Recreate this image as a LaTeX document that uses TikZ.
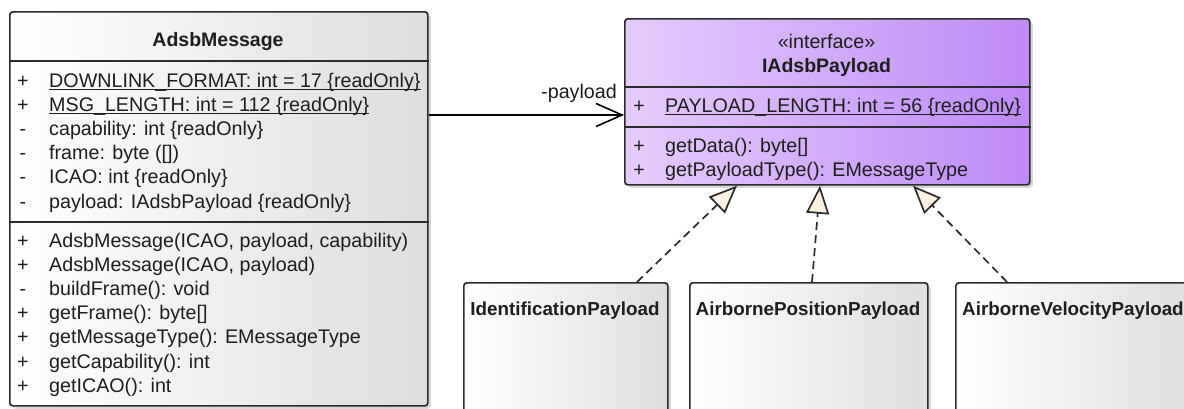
\documentclass[tikz,border=0pt]{standalone}
\usepackage{fontspec}
\setmainfont{Liberation Sans}
\usetikzlibrary{arrows.meta,shadows}

\definecolor{edgecol}{RGB}{44,44,44}
\definecolor{txtcol}{RGB}{30,30,30}
\definecolor{clsR}{RGB}{222,222,222}
\definecolor{ifL}{RGB}{230,204,252}
\definecolor{ifR}{RGB}{190,138,246}
\definecolor{cream}{RGB}{251,241,226}

\begin{document}
\begin{tikzpicture}[x=1pt,y=-1pt,
  boxbase/.style={draw=edgecol, line width=1.7pt, rounded corners=3pt,
    anchor=north west, inner sep=0pt,
    drop shadow={shadow xshift=3pt, shadow yshift=-3pt, opacity=0.25, fill=black!60}},
  classbox/.style={boxbase, left color=white, right color=clsR},
  ifacebox/.style={boxbase, left color=ifL, right color=ifR},
  divider/.style={draw=edgecol, line width=1.6pt},
  txt/.style={inner sep=0pt, text=txtcol, font=\fontsize{19.7}{23}\selectfont},
  member/.style={txt, anchor=base west},
  sign/.style={txt, anchor=base},
  title/.style={txt, anchor=base, font=\fontsize{19.5}{23}\selectfont\bfseries},
  subtitle/.style={txt, anchor=base, font=\fontsize{18.8}{23}\selectfont\bfseries},
  uline/.style={draw=txtcol, line width=1.3pt},
  assoc/.style={draw=black, line width=1.6pt, -{Straight Barb[length=26pt,width=23pt]}},
  realize/.style={draw=edgecol, line width=1.7pt, dash pattern=on 8pt off 5pt,
    -{Triangle[length=28pt,width=23pt,fill=cream]}}
]
\useasboundingbox (0,0) rectangle (1184,408);
\fill[white] (0,0) rectangle (1184,408);

% ---------------- AdsbMessage ----------------
\node[classbox, minimum width=418pt, minimum height=394pt] (am) at (9,11) {};
\draw[divider] (am.west |- 0,61) -- (am.east |- 0,61);
\draw[divider] (am.west |- 0,222) -- (am.east |- 0,222);
\node[title] (amT) at (218,46) {AdsbMessage};

% attributes
\node[sign] (as1) at (23,87) {+};
\node[member] (aa1) at (49,87) {DOWNLINK\_FORMAT: int = 17 \{readOnly\}};
\node[sign] (as2) at (23,111.2) {+};
\node[member] (aa2) at (49,111.2) {MSG\_LENGTH: int = 112 \{readOnly\}};
\node[sign] (as3) at (23,135.4) {-};
\node[member] (aa3) at (49,135.4) {capability: int \{readOnly\}};
\node[sign] (as4) at (23,159.6) {-};
\node[member] (aa4) at (49,159.6) {frame: byte ([])};
\node[sign] (as5) at (23,183.8) {-};
\node[member] (aa5) at (49,183.8) {ICAO: int \{readOnly\}};
\node[sign] (as6) at (23,208) {-};
\node[member] (aa6) at (49,208) {payload: IAdsbPayload \{readOnly\}};
\draw[uline] ([yshift=-2.5pt]aa1.base west) -- ([yshift=-2.5pt]aa1.base east);
\draw[uline] ([yshift=-2.5pt]aa2.base west) -- ([yshift=-2.5pt]aa2.base east);

% operations
\node[sign] (os1) at (23,247) {+};
\node[member] (ao1) at (49,247) {AdsbMessage(ICAO, payload, capability)};
\node[sign] (os2) at (23,271.2) {+};
\node[member] (ao2) at (49,271.2) {AdsbMessage(ICAO, payload)};
\node[sign] (os3) at (23,295.4) {-};
\node[member] (ao3) at (49,295.4) {buildFrame(): void};
\node[sign] (os4) at (23,319.6) {+};
\node[member] (ao4) at (49,319.6) {getFrame(): byte[]};
\node[sign] (os5) at (23,343.8) {+};
\node[member] (ao5) at (49,343.8) {getMessageType(): EMessageType};
\node[sign] (os6) at (23,368) {+};
\node[member] (ao6) at (49,368) {getCapability(): int};
\node[sign] (os7) at (23,392.2) {+};
\node[member] (ao7) at (49,392.2) {getICAO(): int};

% ---------------- IAdsbPayload ----------------
\node[ifacebox, minimum width=405pt, minimum height=166pt] (ip) at (624,18) {};
\draw[divider] (ip.west |- 0,87) -- (ip.east |- 0,87);
\draw[divider] (ip.west |- 0,127) -- (ip.east |- 0,127);
\node[txt, anchor=base] (ipS) at (826.5,48) {«interface»};
\node[title] (ipT) at (826.5,72) {IAdsbPayload};
\node[sign] (ps1) at (639,112) {+};
\node[member] (pa1) at (665,112) {PAYLOAD\_LENGTH: int = 56 \{readOnly\}};
\draw[uline] ([yshift=-2.5pt]pa1.base west) -- ([yshift=-2.5pt]pa1.base east);
\node[sign] (ps2) at (639,152) {+};
\node[member] (po1) at (665,152) {getData(): byte[]};
\node[sign] (ps3) at (639,176) {+};
\node[member] (po2) at (665,176) {getPayloadType(): EMessageType};

% ---------------- implementing classes ----------------
\node[classbox, minimum width=204pt, minimum height=150pt] (idp) at (463,282) {};
\node[subtitle] (idpT) at (565,315) {IdentificationPayload};
\node[classbox, minimum width=238pt, minimum height=150pt] (app) at (689,282) {};
\node[subtitle] (appT) at (808,315) {AirbornePositionPayload};
\node[classbox, minimum width=238pt, minimum height=150pt] (avp) at (955,282) {};
\node[subtitle, anchor=base west] (avpT) at (962,315) {AirborneVelocityPayload};

% ---------------- connectors ----------------
\draw[assoc] (am.east |- 0,115) -- (ip.west |- 0,115);
\node[txt, anchor=base east] (lblPayload) at (617,98) {-payload};

\draw[realize] (idp.north -| 637,0) -- (ip.south -| 737,0);
\draw[realize] (app.north -| 812,0) -- (ip.south -| 820,0);
\draw[realize] (avp.north -| 1007,0) -- (ip.south -| 913,0);
\end{tikzpicture}
\end{document}
